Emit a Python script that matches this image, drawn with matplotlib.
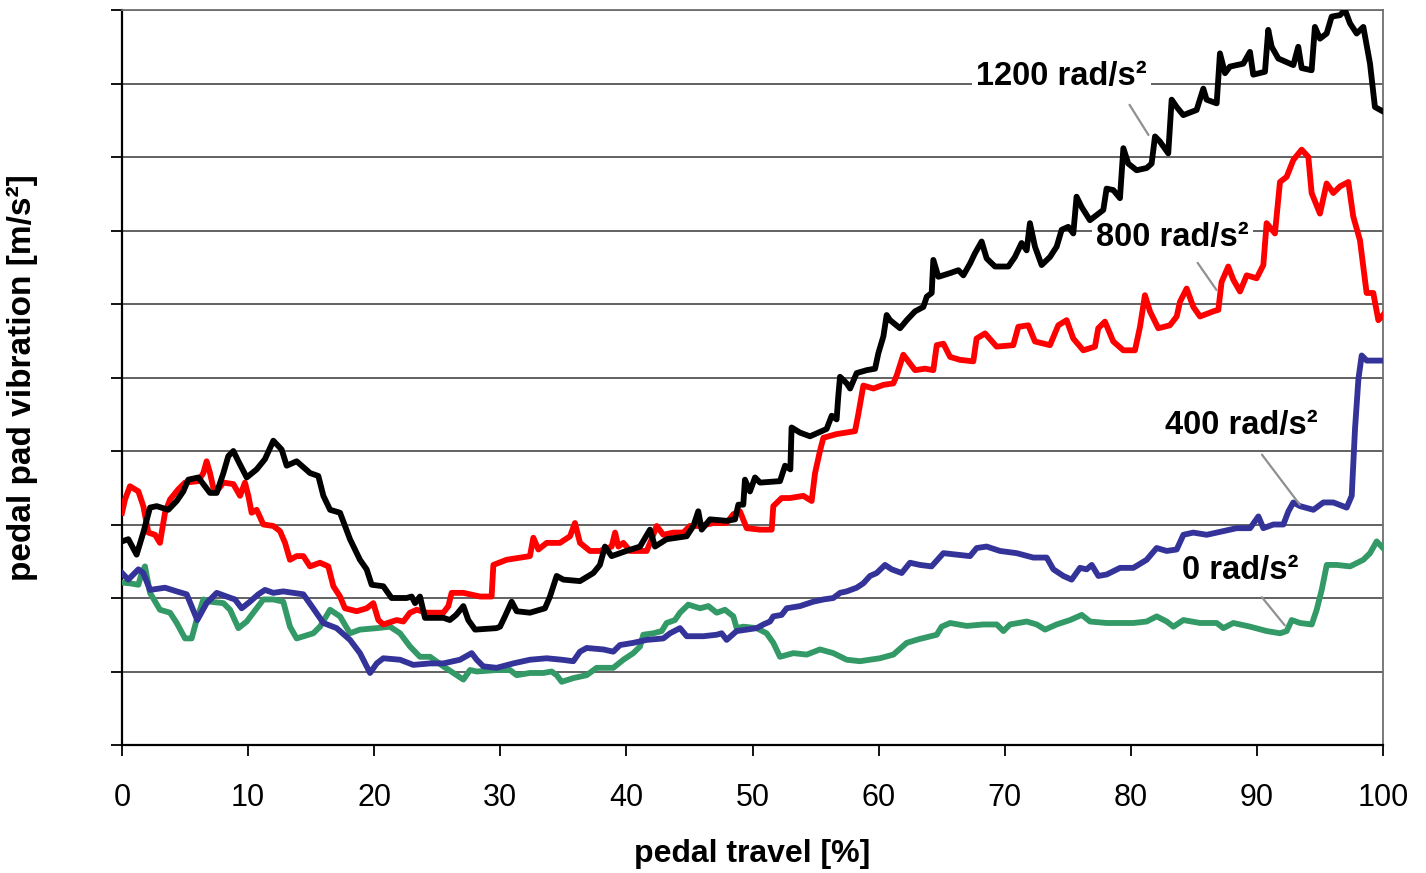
import matplotlib
matplotlib.use("Agg")
from matplotlib import pyplot as plt

plt.rcParams['font.family'] = ['Liberation Sans', 'DejaVu Sans']

# pedal travel [%] / vibration (grid units)
x_1200 = [0, 0.5, 1.16, 1.69, 2.22, 2.75, 3.67, 4.34, 4.86, 5.26, 6.05, 6.58, 6.98, 7.51, 8.04, 8.43,
          8.83, 9.23, 9.89, 10.68, 11.34, 12.0, 12.66, 13.06, 13.85, 14.91, 15.57, 15.97, 16.5, 17.29,
          18.08, 18.87, 19.4, 19.8, 20.72, 21.38, 22.57, 22.97, 23.24, 23.63, 24.03, 25.5, 26.0, 26.5,
          27.07, 27.46, 28.0, 29.7, 29.98, 30.37, 30.9, 31.3, 32.35, 33.54, 33.94, 34.47, 35.0, 36.32,
          37.38, 37.9, 38.3, 38.83, 40.0, 41.08, 41.87, 42.27, 43.19, 44.78, 45.31, 45.7, 45.97, 46.63,
          47.95, 48.61, 48.88, 49.27, 49.4, 49.8, 50.2, 50.6, 52.18, 52.58, 53.0, 53.1, 53.77, 54.56,
          55.88, 56.28, 56.67, 56.8, 56.94, 57.47, 57.74, 58.26, 59.06, 59.72, 59.98, 60.38, 60.64,
          60.91, 61.7, 62.23, 62.89, 63.55, 63.82, 64.21, 64.34, 64.74, 65.67, 66.33, 66.72, 67.25,
          67.64, 68.17, 68.57, 69.23, 70.29, 70.81, 71.34, 71.74, 72.0, 72.4, 72.93, 73.59, 74.12,
          74.52, 75.04, 75.44, 75.7, 76.1, 76.76, 77.29, 77.82, 78.08, 78.61, 79.14, 79.41, 79.8,
          80.46, 81.26, 81.65, 81.92, 82.31, 82.97, 83.24, 83.64, 84.16, 85.22, 85.75, 86.01, 86.81,
          87.07, 87.47, 87.86, 88.92, 89.45, 89.71, 90.64, 90.9, 91.17, 91.7, 92.89, 93.28, 93.55,
          94.34, 94.6, 95.0, 95.53, 95.93, 96.59, 96.99, 97.38, 97.91, 98.44, 98.97, 99.36, 100.0]
y_1200 = [2.77, 2.80, 2.59, 2.89, 3.23, 3.25, 3.20, 3.32, 3.45, 3.61, 3.64, 3.52, 3.43, 3.43, 3.70, 3.93,
          4.0, 3.86, 3.64, 3.75, 3.89, 4.14, 4.02, 3.80, 3.86, 3.70, 3.66, 3.39, 3.20, 3.16,
          2.80, 2.52, 2.39, 2.18, 2.16, 2.0, 2.0, 2.02, 1.93, 2.02, 1.73, 1.73, 1.70, 1.77,
          1.89, 1.70, 1.57, 1.59, 1.61, 1.75, 1.95, 1.82, 1.80, 1.86, 2.02, 2.30, 2.25, 2.23,
          2.34, 2.45, 2.70, 2.57, 2.64, 2.70, 2.93, 2.70, 2.80, 2.84, 2.98, 3.18, 2.93, 3.07,
          3.05, 3.07, 3.27, 3.27, 3.61, 3.45, 3.64, 3.57, 3.59, 3.80, 3.75, 4.32, 4.25, 4.20,
          4.30, 4.48, 4.43, 4.74, 5.01, 4.92, 4.85, 5.06, 5.10, 5.12, 5.33, 5.56, 5.85,
          5.78, 5.67, 5.78, 5.90, 5.96, 6.10, 6.15, 6.60, 6.37, 6.42, 6.46, 6.39, 6.55,
          6.69, 6.85, 6.62, 6.51, 6.51, 6.64, 6.83, 6.73, 7.10, 6.78, 6.53, 6.64, 6.78,
          7.01, 7.05, 6.96, 7.46, 7.32, 7.14, 7.21, 7.28, 7.57, 7.55, 7.44, 8.12, 7.91,
          7.82, 7.85, 7.91, 8.28, 8.21, 8.05, 8.78, 8.68, 8.57, 8.64, 8.93, 8.78, 8.73,
          9.41, 9.14, 9.23, 9.27, 9.43, 9.12, 9.16, 9.73, 9.50, 9.34, 9.25, 9.50, 9.21,
          9.18, 9.77, 9.61, 9.68, 9.91, 9.93, 10.0, 9.82, 9.68, 9.77, 9.27, 8.68, 8.62]

x_800 = [0, 0.24, 0.63, 1.3, 1.69, 2.09, 2.62, 3.01, 3.41, 3.81, 4.47, 5.0, 6.05, 6.45, 6.71, 6.98,
         7.24, 7.64, 8.04, 8.83, 9.36, 9.75, 10.02, 10.28, 10.68, 11.21, 12.0, 12.53, 12.93, 13.32,
         13.85, 14.38, 14.91, 15.7, 16.36, 16.76, 17.29, 17.68, 18.61, 19.4, 19.93, 20.33, 20.72,
         21.78, 22.31, 22.84, 23.37, 24.16, 24.82, 25.48, 25.88, 26.14, 27.07, 28.39, 29.31, 29.45,
         30.5, 32.35, 32.62, 33.02, 33.68, 34.73, 35.53, 35.92, 36.32, 37.11, 37.9, 38.83, 39.1,
         39.36, 39.76, 40.29, 41.61, 42.0, 42.4, 42.93, 43.72, 44.51, 45.04, 45.84, 46.89, 47.95,
         48.48, 49.0, 49.54, 50.59, 51.52, 51.65, 52.31, 52.97, 54.03, 54.69, 54.96, 55.35, 55.62,
         56.67, 58.13, 58.39, 58.79, 59.59, 60.38, 61.17, 61.44, 61.96, 62.49, 62.89, 63.68, 64.34,
         64.61, 65.14, 65.67, 66.46, 67.51, 67.77, 68.44, 69.36, 70.68, 71.08, 71.87, 72.4, 73.59,
         74.25, 74.91, 75.44, 76.23, 77.16, 77.42, 77.95, 78.61, 79.41, 80.33, 80.73, 81.12, 81.52,
         82.18, 83.1, 83.64, 83.9, 84.43, 84.96, 85.49, 86.54, 86.94, 87.2, 87.73, 88.13, 88.66,
         89.19, 89.98, 90.51, 90.77, 91.43, 91.83, 92.36, 92.89, 93.55, 94.08, 94.34, 95.0, 95.53,
         96.06, 96.59, 97.25, 97.64, 98.17, 98.7, 99.23, 99.63, 100.0]
y_800 = [3.16, 3.34, 3.52, 3.45, 3.25, 2.89, 2.86, 2.75, 3.16, 3.34, 3.48, 3.57, 3.59, 3.70, 3.86, 3.70,
         3.50, 3.48, 3.57, 3.55, 3.39, 3.57, 3.39, 3.16, 3.20, 3.0, 2.98, 2.91, 2.75, 2.52,
         2.57, 2.57, 2.43, 2.48, 2.43, 2.16, 2.02, 1.86, 1.82, 1.86, 1.93, 1.70, 1.64,
         1.70, 1.68, 1.80, 1.84, 1.80, 1.80, 1.80, 1.89, 2.07, 2.07, 2.02, 2.02, 2.45,
         2.52, 2.57, 2.82, 2.66, 2.75, 2.75, 2.84, 3.02, 2.75, 2.64, 2.64, 2.70, 2.89,
         2.70, 2.75, 2.64, 2.64, 2.80, 2.98, 2.86, 2.89, 2.89, 2.98, 2.98, 3.02, 3.02,
         3.14, 3.18, 2.95, 2.93, 2.93, 3.25, 3.36, 3.36, 3.39, 3.32, 3.70, 4.0, 4.18,
         4.23, 4.27, 4.50, 4.89, 4.85, 4.90, 4.92, 5.03, 5.31, 5.19, 5.10, 5.12, 5.10,
         5.44, 5.46, 5.28, 5.24, 5.22, 5.53, 5.60, 5.42, 5.44, 5.69, 5.71, 5.49, 5.44,
         5.71, 5.78, 5.53, 5.37, 5.42, 5.67, 5.76, 5.49, 5.37, 5.37, 5.69, 6.12, 5.90,
         5.67, 5.71, 5.83, 6.03, 6.21, 5.96, 5.83, 5.90, 5.92, 6.30, 6.51, 6.33, 6.17,
         6.39, 6.35, 6.53, 7.10, 6.96, 7.66, 7.73, 7.96, 8.10, 8.0, 7.51, 7.23, 7.64,
         7.51, 7.60, 7.66, 7.19, 6.87, 6.15, 6.15, 5.78, 5.85]

x_400 = [0, 0.5, 1.3, 1.69, 2.22, 3.41, 4.34, 5.13, 5.97, 6.71, 7.51, 8.3, 8.96, 9.49, 10.15, 10.81,
         11.34, 12.0, 12.79, 14.38, 15.04, 15.97, 17.02, 18.08, 18.87, 19.67, 20.2, 20.72, 22.05,
         23.1, 24.43, 25.48, 26.8, 27.73, 28.13, 28.65, 29.71, 31.03, 32.35, 33.68, 34.87, 35.79,
         36.32, 36.85, 38.17, 38.96, 39.49, 40.55, 41.61, 42.93, 43.46, 44.25, 44.78, 46.1, 47.16,
         47.55, 47.95, 48.74, 49.54, 50.33, 50.86, 51.39, 51.65, 52.31, 52.71, 53.77, 54.82, 55.62,
         56.41, 56.94, 57.47, 58.26, 58.79, 59.32, 59.85, 60.51, 61.04, 61.83, 62.49, 63.28, 64.2,
         65.14, 66.19, 67.25, 67.78, 68.57, 69.63, 70.95, 72.27, 73.33, 73.86, 74.65, 75.31, 75.97,
         76.5, 76.9, 77.43, 78.09, 79.15, 80.2, 81.26, 82.05, 82.85, 83.64, 84.17, 84.96, 86.02,
         87.34, 88.4, 89.46, 90.12, 90.51, 91.31, 92.1, 92.5, 92.89, 93.42, 94.48, 95.27, 96.06,
         97.12, 97.52, 97.78, 98.05, 98.31, 98.71, 100.0]
y_400 = [2.34, 2.25, 2.39, 2.34, 2.11, 2.14, 2.09, 2.05, 1.70, 1.93, 2.07, 2.02, 1.98, 1.86, 1.95, 2.05,
         2.11, 2.07, 2.09, 2.05, 1.89, 1.66, 1.59, 1.43, 1.25, 0.98, 1.11, 1.18, 1.16,
         1.09, 1.11, 1.11, 1.16, 1.25, 1.16, 1.07, 1.05, 1.11, 1.16, 1.18, 1.16, 1.14,
         1.27, 1.32, 1.30, 1.27, 1.36, 1.39, 1.43, 1.45, 1.52, 1.59, 1.48, 1.48, 1.50,
         1.52, 1.43, 1.55, 1.57, 1.59, 1.64, 1.68, 1.75, 1.77, 1.86, 1.89, 1.95, 1.98,
         2.0, 2.07, 2.09, 2.14, 2.20, 2.30, 2.34, 2.45, 2.39, 2.34, 2.48, 2.45, 2.43,
         2.61, 2.59, 2.57, 2.68, 2.70, 2.64, 2.61, 2.55, 2.55, 2.39, 2.30, 2.25, 2.41,
         2.39, 2.45, 2.30, 2.32, 2.41, 2.41, 2.52, 2.68, 2.64, 2.66, 2.86, 2.89, 2.86,
         2.91, 2.95, 2.95, 3.11, 2.95, 3.0, 3.0, 3.18, 3.30, 3.25, 3.20, 3.30, 3.30,
         3.23, 3.39, 4.30, 4.98, 5.30, 5.23, 5.23]

x_0 = [0, 0.63, 1.3, 1.56, 1.82, 2.22, 3.01, 3.81, 4.34, 5.0, 5.52, 5.92, 6.45, 6.98, 8.04, 8.57, 9.23,
       9.89, 10.68, 11.21, 12.0, 12.79, 13.32, 13.85, 15.17, 15.7, 16.5, 17.29, 18.08, 18.87, 20.2,
       21.25, 22.05, 22.84, 23.63, 24.43, 25.48, 26.28, 27.07, 27.6, 28.13, 29.71, 30.77, 31.3,
       32.35, 33.41, 34.07, 34.47, 34.87, 35.79, 36.85, 37.64, 38.96, 39.76, 40.55, 41.08, 41.34,
       42.14, 42.8, 43.19, 43.85, 44.25, 44.91, 45.84, 46.5, 47.16, 47.82, 48.48, 48.74, 49.27,
       50.33, 51.12, 51.65, 52.18, 53.24, 54.3, 55.35, 56.41, 57.47, 58.52, 60.1, 61.17, 62.23,
       63.2, 64.61, 65.0, 65.67, 66.99, 68.31, 69.37, 69.9, 70.42, 71.75, 72.54, 73.2, 74.12,
       75.18, 76.11, 76.77, 78.09, 79.15, 80.2, 81.26, 82.05, 82.85, 83.38, 84.17, 85.49, 86.81,
       87.34, 88.13, 89.46, 90.78, 91.84, 92.36, 92.76, 93.42, 94.35, 94.74, 95.14, 95.54, 96.33,
       97.39, 98.44, 98.97, 99.5, 100.0]
y_0 = [2.21, 2.20, 2.18, 2.34, 2.43, 2.07, 1.84, 1.80, 1.66, 1.45, 1.45, 1.70, 1.98, 1.95, 1.93, 1.84, 1.59,
       1.68, 1.86, 1.98, 1.98, 1.95, 1.61, 1.45, 1.52, 1.61, 1.84, 1.75, 1.52, 1.57, 1.59,
       1.61, 1.52, 1.34, 1.20, 1.20, 1.07, 0.98, 0.89, 1.02, 1.0, 1.02, 1.02, 0.95,
       0.98, 0.98, 1.0, 0.95, 0.86, 0.91, 0.95, 1.05, 1.05, 1.16, 1.25, 1.34, 1.50,
       1.52, 1.55, 1.66, 1.70, 1.80, 1.91, 1.86, 1.89, 1.80, 1.84, 1.75, 1.59, 1.61,
       1.59, 1.52, 1.39, 1.20, 1.25, 1.23, 1.30, 1.25, 1.16, 1.14, 1.18, 1.23, 1.39,
       1.44, 1.50, 1.61, 1.66, 1.62, 1.64, 1.64, 1.55, 1.64, 1.68, 1.64, 1.57, 1.64,
       1.70, 1.77, 1.68, 1.66, 1.66, 1.66, 1.68, 1.75, 1.68, 1.61, 1.70, 1.66, 1.66,
       1.59, 1.66, 1.61, 1.55, 1.52, 1.55, 1.70, 1.66, 1.64, 1.84, 2.11, 2.45, 2.45,
       2.43, 2.52, 2.61, 2.77, 2.68]

labels = ['0 rad/s²', '400 rad/s²', '800 rad/s²', '1200 rad/s²']
colors = ['#339966', '#333399', '#ff0000', '#000000']
# label centre and leader line (start -> end) in data units
label_pos = [(88.7, 2.38), (88.8, 4.35), (83.3, 6.91), (74.5, 9.10)]
leader_from = [(90.4, 2.01), (90.4, 3.95), (85.3, 6.56), (79.9, 8.71)]
leader_to = [(92.2, 1.63), (93.4, 3.27), (86.8, 6.19), (81.4, 8.30)]

fig = plt.figure(figsize=(14.26, 8.73), dpi=100)
ax = fig.add_axes([122 / 1426, 1 - 745 / 873, 1261 / 1426, 735 / 873])

for xs, ys, c in zip([x_0, x_400, x_800, x_1200], [y_0, y_400, y_800, y_1200], colors):
    ax.plot(xs, ys, color=c, lw=4.2, solid_joinstyle='round', zorder=3)

ax.set_xlim(0, 100)
ax.set_ylim(0, 10)
ax.set_xticks(range(0, 101, 10))
ax.set_yticks(range(0, 11))
ax.set_yticklabels([])
ax.grid(axis='y', color='#555555', lw=1.3)
ax.set_axisbelow(True)

ax.tick_params(axis='x', direction='out', length=8, width=1.3, labelsize=22, pad=19)
ax.tick_params(axis='y', direction='out', length=8, width=1.3)
for s in ['left', 'bottom']:
    ax.spines[s].set_linewidth(1.6)
for s in ['top', 'right']:
    ax.spines[s].set_color('#707070')
    ax.spines[s].set_linewidth(1.3)

ax.set_xlabel('pedal travel [%]', fontsize=23, fontweight='bold')
ax.xaxis.set_label_coords(0.5, -0.128)
ax.set_ylabel('pedal pad vibration [m/s²]', fontsize=24, fontweight='bold')
ax.yaxis.set_label_coords(-0.067, 0.5)

for lab, p, a, b in zip(labels, label_pos, leader_from, leader_to):
    ax.annotate('', xy=b, xytext=a, arrowprops=dict(arrowstyle='-', color='#909090', lw=1.6,
                                                   shrinkA=0, shrinkB=0), zorder=4)
    ax.text(p[0], p[1], lab, fontsize=23.5, fontweight='bold', ha='center', va='center', zorder=2,
            bbox=dict(facecolor='white', edgecolor='none', pad=3))

fig.savefig('out.png', dpi=100)
